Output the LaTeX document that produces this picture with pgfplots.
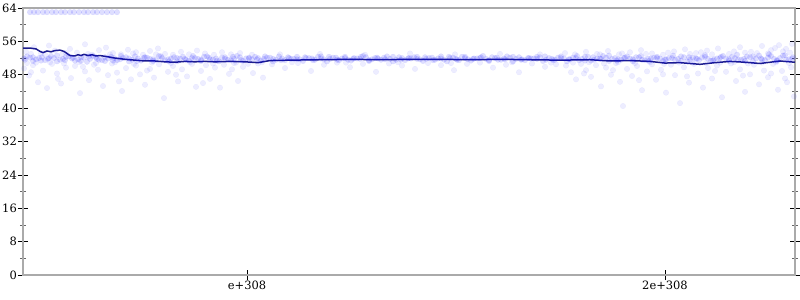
\documentclass[border=0pt]{standalone}
\usepackage{pgfplots}
\pgfplotsset{compat=1.18}
\usepackage{fontspec}
\setmainfont{DejaVu Serif}
\definecolor{ptblue}{RGB}{0,0,255}
\definecolor{linenavy}{RGB}{30,30,140}
\definecolor{axgray}{RGB}{170,170,170}
\begin{document}
\fontsize{11.5}{13}\selectfont
\begin{tikzpicture}
\useasboundingbox (-23bp,-25bp) rectangle (777bp,275bp);
\begin{axis}[
  scale only axis,
  width=772bp, height=267bp,
  at={(0,0)}, anchor=south west,
  xmin=23, xmax=795, ymin=0, ymax=64,
  xtick={247,665}, xticklabels={e+308,2e+308},
  ytick={0,8,16,24,32,40,48,56,64},
  minor y tick num=1,
  xtick pos=lower, ytick pos=both,
  tick align=center,
  major tick length=10bp, minor tick length=6bp,
  every tick/.style={black, line width=0.6bp},
  minor tick style={black!60, line width=0.6bp},
  axis line style={axgray, line width=1.6bp},
  /pgf/number format/assume math mode=true,
  yticklabel style={inner sep=1bp, font=\fontsize{11.5}{13}\selectfont},
  xticklabel style={inner sep=1bp, font=\fontsize{11.5}{13}\selectfont},
  clip=true,
]
\pgfplotsset{ptstyle/.style={only marks, mark=*, mark size=2.8bp,
  mark options={draw=ptblue, fill=ptblue, draw opacity=0.04, fill opacity=0.07, line width=0.4bp}},
  bandstyle/.style={only marks, mark=*, mark size=2.8bp,
  mark options={draw=ptblue, fill=ptblue, draw opacity=0.06, fill opacity=0.13, line width=0.4bp}}}
% band 1
\addplot[bandstyle] coordinates {
(24,51.9)(30,52.1)(36,51.7)(42,52.2)(48,51.8)(54,52.0)(60,51.6)(66,52.3)(72,51.9)(78,51.7)(84,52.1)(90,51.8)(96,52.2)(102,51.5)(108,51.9)(114,52.0)(120,51.7)(126,52.2)(132,51.6)(138,51.9)(144,52.1)(150,51.8)(156,51.5)(162,52.0)(168,51.7)(174,52.2)(180,51.9)(186,51.6)(192,52.0)(198,51.8)(204,52.3)(210,51.7)(216,51.9)(222,52.1)(228,51.6)(234,51.8)(240,52.2)(246,51.9)(252,51.7)(258,52.0)(264,51.8)(270,52.1)(276,51.6)(282,51.9)(288,52.2)(294,51.8)(300,51.7)(306,52.0)(312,51.9)(318,52.3)(324,51.7)(330,51.8)(336,52.1)(342,51.9)(348,51.6)(354,52.0)(360,51.8)(366,52.2)(372,51.7)(378,51.9)(384,52.1)(390,51.8)(396,51.6)(402,52.0)(408,51.9)(414,52.2)(420,51.7)(426,51.8)(432,52.1)(438,51.9)(444,51.6)(450,52.0)(456,51.8)(462,52.3)(468,51.7)(474,51.9)(480,52.0)(486,51.8)(492,52.2)(498,51.6)(504,51.9)(510,52.1)(516,51.8)(522,51.7)(528,52.0)(534,51.9)(540,52.2)(546,51.6)(552,51.8)(558,52.1)(564,51.9)(570,51.7)(576,52.0)(582,51.8)(588,52.3)(594,51.6)(600,51.9)(606,52.1)(612,51.8)(618,51.7)(624,52.0)(630,51.9)(636,52.2)(642,51.6)(648,51.8)(654,52.1)(660,51.9)(666,51.7)(672,52.0)(678,51.8)(684,52.2)(690,51.6)(696,51.9)(702,52.1)(708,51.8)(714,51.7)(720,52.0)(726,51.9)(732,52.3)(738,51.6)(744,51.8)(750,52.2)(756,51.9)(762,51.7)(768,52.1)(774,51.8)(780,52.0)(786,51.6)(792,51.9)
};
% band 2
\addplot[bandstyle] coordinates {
(27,52.4)(33,51.3)(39,52.0)(45,51.5)(51,52.5)(57,51.2)(63,51.8)(69,52.4)(75,51.4)(81,52.2)(87,51.1)(93,52.5)(99,51.6)(105,51.3)(111,52.3)(117,51.5)(123,52.0)(129,51.2)(135,52.4)(141,51.4)(147,52.1)(153,51.3)(159,52.5)(165,51.5)(171,51.9)(177,51.2)(183,52.3)(189,51.4)(195,52.0)(201,51.3)(207,52.4)(213,51.6)(219,51.2)(225,52.2)(231,51.5)(237,52.5)(243,51.3)(249,51.9)(255,52.3)(261,51.4)(267,52.1)(273,51.2)(279,52.4)(285,51.5)(291,51.8)(297,52.3)(303,51.3)(309,52.0)(315,51.6)(321,52.4)(327,51.2)(333,52.1)(339,51.5)(345,52.3)(351,51.4)(357,51.9)(363,52.5)(369,51.3)(375,52.0)(381,51.6)(387,52.4)(393,51.2)(399,52.2)(405,51.5)(411,51.9)(417,52.3)(423,51.3)(429,52.0)(435,51.6)(441,52.4)(447,51.2)(453,52.1)(459,51.5)(465,52.3)(471,51.4)(477,51.9)(483,52.5)(489,51.3)(495,52.0)(501,51.6)(507,52.4)(513,51.2)(519,52.2)(525,51.5)(531,51.9)(537,52.3)(543,51.3)(549,52.0)(555,51.6)(561,52.4)(567,51.2)(573,52.1)(579,51.5)(585,52.3)(591,51.4)(597,51.9)(603,52.5)(609,51.3)(615,52.0)(621,51.6)(627,52.4)(633,51.2)(639,52.2)(645,51.5)(651,51.9)(657,52.3)(663,51.3)(669,52.0)(675,51.6)(681,52.4)(687,51.2)(693,52.1)(699,51.5)(705,52.3)(711,51.4)(717,51.9)(723,52.5)(729,51.3)(735,52.0)(741,51.6)(747,52.4)(753,51.2)(759,52.6)(765,51.5)(771,52.5)(777,51.3)(783,52.6)(789,51.7)
};
% band 3
\addplot[bandstyle] coordinates {
(25,51.6)(33,52.2)(41,51.4)(49,52.0)(57,52.6)(65,51.5)(73,52.1)(81,51.3)(89,52.4)(97,51.8)(105,52.2)(113,51.4)(121,52.5)(129,51.9)(137,51.3)(145,52.2)(153,51.7)(161,52.4)(169,51.2)(177,52.0)(185,51.8)(193,52.5)(201,51.6)(209,52.1)(217,51.4)(225,51.8)(233,52.3)(241,51.5)(249,52.1)(257,51.7)(265,52.4)(273,51.8)(281,51.5)(289,52.0)(297,51.7)(305,52.2)(313,51.5)(321,51.9)(329,52.3)(337,51.6)(345,52.0)(353,51.8)(361,52.3)(369,51.5)(377,52.1)(385,51.7)(393,52.3)(401,51.6)(409,52.0)(417,51.8)(425,52.2)(433,51.5)(441,51.9)(449,52.3)(457,51.6)(465,52.0)(473,51.8)(481,52.2)(489,51.5)(497,52.1)(505,51.7)(513,52.3)(521,51.6)(529,52.0)(537,51.8)(545,52.4)(553,51.5)(561,52.0)(569,51.7)(577,52.5)(585,51.4)(593,52.2)(601,51.8)(609,52.6)(617,51.4)(625,52.1)(633,51.7)(641,52.5)(649,51.3)(657,52.0)(665,51.6)(673,52.6)(681,51.3)(689,52.2)(697,51.8)(705,52.7)(713,51.4)(721,52.3)(729,51.7)(737,52.8)(745,51.3)(753,52.4)(761,51.9)(769,52.9)(777,51.5)(785,52.7)(793,52.2)
};
% upper scatter
\addplot[ptstyle] coordinates {
(26,53.5)(34,54.6)(41,53.1)(49,55.0)(55,53.8)(62,52.9)(70,54.2)(77,53.3)(85,55.3)(92,52.8)(99,53.9)(106,54.5)(113,53.2)(121,52.9)(128,54.0)(136,53.4)(143,52.8)(150,53.7)(158,54.3)(165,53.0)(173,52.8)(181,53.5)(189,52.9)(197,53.8)(205,53.1)(214,52.8)(222,53.4)(231,52.9)(240,53.2)(252,52.8)
(280,52.9)(320,53.0)(365,52.8)(410,53.1)(455,52.9)(500,53.0)(540,52.9)
(565,53.2)(575,52.9)(586,53.5)(597,53.0)(608,53.7)(619,52.9)(630,53.4)(641,53.9)(652,53.1)(663,52.8)(674,53.6)(685,54.1)(696,53.2)(707,53.8)(718,54.3)(729,53.0)(740,54.6)(751,53.5)(762,54.9)(771,53.9)(779,55.1)(786,54.2)(792,55.4)(790,53.3)(768,53.1)(745,53.3)(712,52.9)(690,53.0)
(31,53.0)(45,52.9)(66,53.2)(88,53.0)(110,52.9)(133,53.1)(156,52.9)(600,52.9)(622,53.1)(646,53.0)(668,53.3)(701,53.4)(734,53.6)(757,53.2)(775,54.4)(783,53.6)
};
% lower scatter
\addplot[ptstyle] coordinates {
(24,49.5)(29,47.8)(33,50.3)(38,46.2)(43,49.0)(47,44.8)(52,50.6)(57,48.3)(61,45.9)(66,49.7)(71,47.2)(75,50.1)(80,43.6)(85,48.8)(89,46.7)(94,50.4)(98,49.2)(103,45.3)(108,47.9)(112,50.7)(117,48.5)(122,44.1)(126,49.6)(131,46.9)(136,50.2)(140,48.1)(145,45.6)(150,49.4)(154,47.3)(159,50.5)(164,42.4)(168,48.7)(173,50.1)(178,46.4)(182,49.3)(187,47.6)(192,50.6)(196,45.1)(201,48.9)(206,50.3)(210,47.0)(215,49.7)(220,44.9)(224,50.4)(229,48.2)(234,50.8)(238,46.5)(243,49.9)(248,50.6)(253,48.4)(258,50.7)(263,47.3)
(272,50.5)(285,49.6)(298,50.8)(311,48.9)(324,50.4)(337,50.9)(350,49.8)(363,50.6)(376,48.7)(389,50.7)(402,50.2)(415,49.4)(428,50.8)(441,50.3)(454,49.1)(467,50.6)(480,50.9)(493,49.7)(506,50.4)(519,48.6)(532,50.7)(545,49.9)(556,50.5)
(566,50.2)(571,48.6)(576,46.9)(581,50.6)(586,49.1)(591,47.5)(596,50.3)(601,45.2)(606,49.7)(611,48.0)(616,50.8)(620,46.3)(623,40.5)(627,49.4)(632,47.7)(637,50.1)(642,44.3)(647,48.8)(652,50.5)(656,46.8)(661,49.2)(666,43.7)(671,50.4)(675,47.9)(680,41.2)(684,49.8)(689,46.1)(694,50.6)(698,48.3)(703,44.9)(708,49.6)(712,47.1)(717,50.2)(722,42.6)(726,48.7)(731,50.7)(736,46.5)(740,49.3)(745,43.9)(750,48.1)(754,50.4)(759,45.7)(764,49.0)(768,47.4)(773,50.6)(778,44.4)(782,48.9)(787,46.2)(791,49.8)(794,42.8)
(27,50.8)(36,50.9)(50,51.0)(64,50.7)(79,51.0)(96,50.8)(115,51.0)(134,50.6)(152,50.9)(171,50.8)(190,51.0)(213,50.7)(236,50.9)(262,51.0)(292,51.0)(346,50.9)(398,51.0)(451,50.8)(512,51.0)(551,50.9)
(573,50.9)(589,51.0)(604,50.7)(618,51.0)(635,50.8)(650,51.0)(664,50.6)(679,50.9)(692,51.0)(706,50.8)(720,50.9)(734,51.0)(748,50.7)(762,50.9)(776,51.0)(789,50.8)
(31,48.6)(58,47.0)(83,49.9)(119,46.4)(147,49.0)(176,48.0)(203,46.0)(232,49.3)(584,48.3)(613,49.1)(639,46.7)(663,48.1)(687,47.6)(715,48.9)(743,47.8)(771,48.3)(785,47.1)
};
% top row
\addplot[bandstyle] coordinates {
(30,63)(34,63)(38,63)(43,63)(47,63)(52,63)(56,63)(61,63)(65,63)(70,63)(74,63)(79,63)(84,63)(88,63)(93,63)(97,63)(102,63)(107,63)(112,63)(117,63)
};
% mean line
\addplot[linenavy, line width=1.5bp, mark=none] coordinates {
(23,54.4)(30,54.4)(36,54.2)(40,53.6)(43,53.3)(47,53.7)(51,53.5)(55,53.8)(60,53.9)(64,53.6)(67,53.1)(70,52.6)(75,52.5)(78,52.8)(81,52.6)(84,52.9)(88,52.6)(92,52.8)(96,52.5)(100,52.6)(108,52.3)(115,52.0)(125,51.7)(135,51.5)(145,51.3)(155,51.3)(165,51.1)(175,51.0)(185,51.2)(195,51.1)(205,51.2)(215,51.1)(230,51.2)(245,51.1)(258,50.9)(270,51.4)(290,51.5)(320,51.6)(350,51.7)(380,51.6)(410,51.7)(440,51.7)(470,51.6)(500,51.7)(530,51.6)(560,51.5)(590,51.6)(610,51.3)(630,51.4)(650,51.2)(665,50.8)(680,50.9)(700,50.5)(715,50.9)(730,51.2)(745,51.0)(760,50.7)(770,51.0)(780,51.3)(790,51.1)(795,51.0)
};
\end{axis}
\end{tikzpicture}
\end{document}
